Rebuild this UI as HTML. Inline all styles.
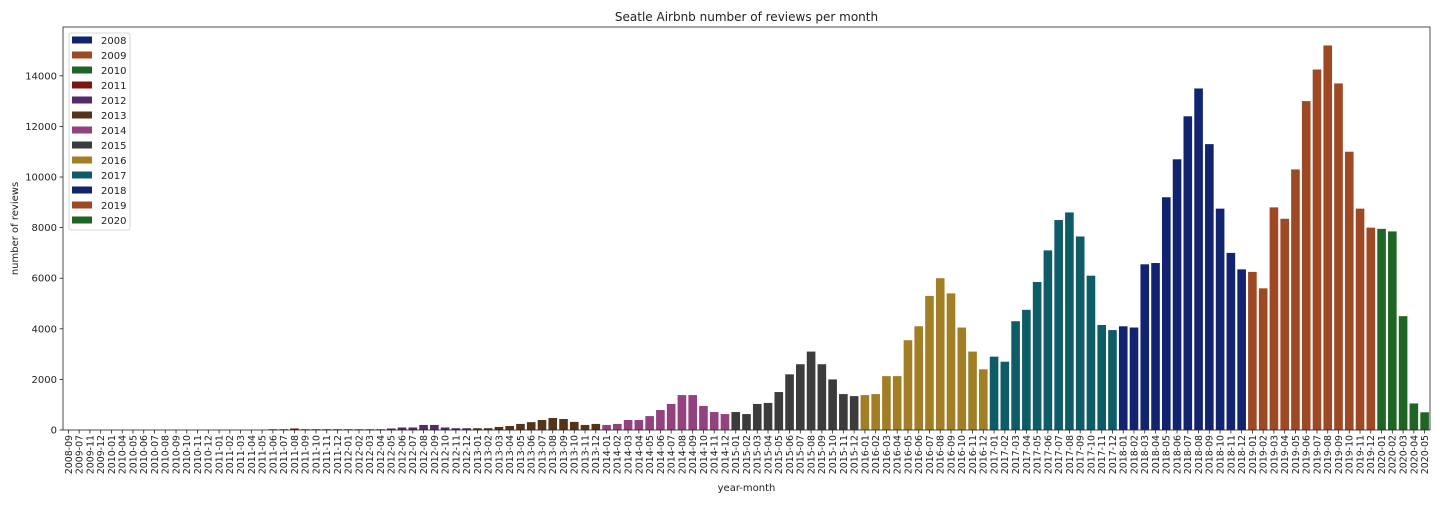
<!DOCTYPE html>
<html><head><meta charset="utf-8"><style>
body{margin:0;background:#fff;font-family:"DejaVu Sans","Liberation Sans",sans-serif;}
svg text{font-family:"DejaVu Sans","Liberation Sans",sans-serif;fill:#222;}
</style></head><body>
<svg id="c" width="1440" height="504" xmlns="http://www.w3.org/2000/svg"></svg>
<script>
const categories=["2008-09","2009-07","2009-11","2009-12","2010-01","2010-04","2010-05","2010-06","2010-07","2010-08","2010-09","2010-10","2010-11","2010-12",
"2011-01","2011-02","2011-03","2011-04","2011-05","2011-06","2011-07","2011-08","2011-09","2011-10","2011-11","2011-12",
"2012-01","2012-02","2012-03","2012-04","2012-05","2012-06","2012-07","2012-08","2012-09","2012-10","2012-11","2012-12",
"2013-01","2013-02","2013-03","2013-04","2013-05","2013-06","2013-07","2013-08","2013-09","2013-10","2013-11","2013-12",
"2014-01","2014-02","2014-03","2014-04","2014-05","2014-06","2014-07","2014-08","2014-09","2014-10","2014-11","2014-12",
"2015-01","2015-02","2015-03","2015-04","2015-05","2015-06","2015-07","2015-08","2015-09","2015-10","2015-11","2015-12",
"2016-01","2016-02","2016-03","2016-04","2016-05","2016-06","2016-07","2016-08","2016-09","2016-10","2016-11","2016-12",
"2017-01","2017-02","2017-03","2017-04","2017-05","2017-06","2017-07","2017-08","2017-09","2017-10","2017-11","2017-12",
"2018-01","2018-02","2018-03","2018-04","2018-05","2018-06","2018-07","2018-08","2018-09","2018-10","2018-11","2018-12",
"2019-01","2019-02","2019-03","2019-04","2019-05","2019-06","2019-07","2019-08","2019-09","2019-10","2019-11","2019-12",
"2020-01","2020-02","2020-03","2020-04","2020-05"];
const reviews=[1,1,1,2,2,2,3,3,3,3,3,3,2,2,
2,2,3,3,5,30,30,60,30,30,30,30,
30,30,30,30,60,100,100,200,200,100,70,70,
70,70,120,160,240,310,395,475,435,320,200,240,
200,240,395,395,550,790,1030,1380,1380,950,710,630,
710,630,1030,1070,1500,2200,2600,3100,2600,2000,1420,1340,
1380,1420,2130,2130,3550,4100,5300,6000,5400,4050,3100,2400,
2900,2700,4300,4750,5850,7100,8300,8600,7650,6100,4150,3950,
4100,4050,6550,6600,9200,10700,12400,13500,11300,8750,7000,6350,
6250,5600,8800,8350,10300,13000,14250,15200,13700,11000,8750,8000,
7950,7850,4500,1050,700];
const years=["2008","2009","2010","2011","2012","2013","2014","2015","2016","2017","2018","2019","2020"];
const yTicks=[0,2000,4000,6000,8000,10000,12000,14000];
const colors={"2008":"#12246f","2009":"#9f4824","2010":"#1f6625","2011":"#7a1712","2012":"#562a69","2013":"#55341a","2014":"#93417f","2015":"#3c3c3c","2016":"#a27f24","2017":"#0f5c69","2018":"#12246f","2019":"#9f4824","2020":"#1f6625"};
const svg=document.getElementById('c');const NS="http://www.w3.org/2000/svg";
const L=63,R=1430,T=27,B=430,ymax=15930;
const step=(R-L)/categories.length;
const x=i=>L+step*i+step/2;
const y=v=>B-(v/ymax)*(B-T);
function mk(t,a,p){const e=document.createElementNS(NS,t);for(const k in a)e.setAttribute(k,a[k]);(p||svg).appendChild(e);return e;}
const bars=mk('g',{});


categories.forEach((c,i)=>{
 const v=reviews[i];
 const r=mk('rect',{x:x(i)-step*0.4,y:y(v),width:step*0.8,height:B-y(v),fill:colors[c.slice(0,4)]},bars);
 
 
 mk('line',{x1:x(i),x2:x(i),y1:B,y2:B+3.5,stroke:'#222','stroke-width':0.8});
 const t=mk('text',{transform:`translate(${x(i)+3.4},${B+5}) rotate(-90)`,'text-anchor':'end','font-size':9.4});
 t.textContent=c;
 
 
});
yTicks.forEach(v=>{
 mk('line',{x1:L-3.5,x2:L,y1:y(v),y2:y(v),stroke:'#222','stroke-width':0.8});
 const t=mk('text',{x:L-6,y:y(v)+3.5,'text-anchor':'end','font-size':10});
 t.textContent=v;
 
 
});
const ax=mk('rect',{x:L,y:T,width:R-L,height:B-T,fill:'none',stroke:'#222','stroke-width':0.8});


const ti=mk('text',{x:(L+R)/2,y:21,'text-anchor':'middle','font-size':12});ti.textContent='Seatle Airbnb number of reviews per month';


const xt=mk('text',{x:(L+R)/2,y:491,'text-anchor':'middle','font-size':10});xt.textContent='year-month';


const yt=mk('text',{transform:`translate(18,${(T+B)/2}) rotate(-90)`,'text-anchor':'middle','font-size':10});yt.textContent='number of reviews';


const lg=mk('g',{});


mk('rect',{x:69,y:33,width:61,height:197,rx:2,fill:'#fff',stroke:'#ccc','stroke-width':0.8},lg);
years.forEach((yr,i)=>{
 const e=mk('g',{},lg);
 
 
 mk('rect',{x:72,y:36.5+i*15,width:20,height:7,fill:colors[yr]},e);
 const t=mk('text',{x:101,y:44+i*15,'font-size':10},e);t.textContent=yr;
});
</script>
</body></html>
